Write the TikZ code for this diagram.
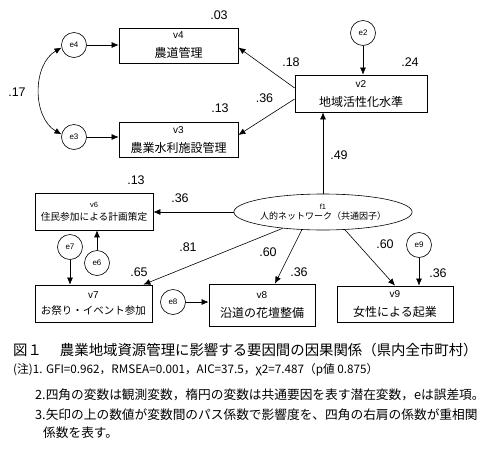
\documentclass[tikz,border=0pt]{standalone}
\usepackage{fontspec}
\setmainfont{Liberation Sans}
\newfontfamily\jp{Noto Sans CJK JP}
\usetikzlibrary{shapes,arrows.meta,positioning,calc}

\newcommand{\vname}[1]{{\fontsize{10}{10}\selectfont #1}}
\newcommand{\vsmall}[1]{{\fontsize{7.5}{7.5}\selectfont #1}}

\begin{document}
\begin{tikzpicture}[
    x=1pt, y=-1pt,
    obsbox/.style={rectangle, draw, line width=0.8pt, inner sep=0pt, align=center, minimum width=118pt, minimum height=36pt, font=\fontsize{12}{19}\selectfont},
    latent/.style={ellipse, draw, line width=0.6pt, minimum width=160pt, minimum height=36pt, inner sep=0pt, align=center, font=\fontsize{9}{10}\selectfont},
    errc/.style={circle, draw, line width=0.6pt, minimum size=25pt, inner sep=0pt, font=\fontsize{8}{8}\selectfont},
    coef/.style={inner sep=0pt, font=\fontsize{12.5}{13}\selectfont},
    arrow/.style={-{Latex[length=7pt,width=6pt]}, line width=0.6pt},
    dblarrow/.style={{Latex[length=7pt,width=6pt]}-{Latex[length=7pt,width=6pt]}, line width=0.6pt},
    note/.style={anchor=west, inner sep=0pt, font=\jp\fontsize{12.7}{13}\selectfont}
]
    \useasboundingbox (0,0) rectangle (496,453);

    \node[obsbox, minimum width=119pt, minimum height=35pt] (v4) at (178.5,45.5) {\vname{v4}\\\jp 農道管理};
    \node[obsbox, minimum width=119pt, minimum height=35pt] (v3) at (178.5,139.5) {\vname{v3}\\\jp 農業水利施設管理};
    \node[obsbox, minimum width=132pt, minimum height=37pt] (v2) at (361,93.5) {\vname{v2}\\\jp 地域活性化水準};
    \node[obsbox, minimum height=37pt, font=\fontsize{9.7}{13}\selectfont] (v6) at (94,211.5) {\vsmall{v6}\\\jp 住民参加による計画策定};
    \node[obsbox, minimum width=117pt, minimum height=37pt, font=\fontsize{10.5}{16}\selectfont] (v7) at (93.5,303.5) {\vname{v7}\\\jp お祭り・イベント参加};
    \node[obsbox, minimum width=106pt, minimum height=42pt] (v8) at (262,305) {\vname{v8}\\\jp 沿道の花壇整備};
    \node[obsbox, minimum width=116pt, minimum height=36pt] (v9) at (395,304) {\vname{v9}\\\jp 女性による起業};
    \node[latent] (f1) at (323,212) {\vsmall{f1}\\\jp 人的ネットワーク（共通因子）};

    \node[errc] (e4) at (74,45) {e4};
    \node[errc] (e3) at (74,137) {e3};
    \node[errc] (e2) at (363,33) {e2};
    \node[errc] (e7) at (70,247) {e7};
    \node[errc] (e6) at (97,263) {e6};
    \node[errc] (e8) at (173,302) {e8};
    \node[errc] (e9) at (419,245) {e9};

    \node[coef] (r4) at (219,15) {.03};
    \node[coef] (r3) at (220,108) {.13};
    \node[coef] (r2) at (410,62) {.24};
    \node[coef] (r6) at (136,180) {.13};
    \node[coef] (r7) at (139,272) {.65};
    \node[coef] (r8) at (299,272) {.36};
    \node[coef] (r9) at (438,273) {.36};
    \node[coef] (c34) at (17,92) {.17};
    \node[coef] (p24) at (291,62) {.18};
    \node[coef] (p23) at (264.5,98) {.36};
    \node[coef] (pf2) at (339,155) {.49};
    \node[coef] (pf6) at (180,198) {.36};
    \node[coef] (pf7) at (188,247) {.81};
    \node[coef] (pf8) at (268,252) {.60};
    \node[coef] (pf9) at (385,244) {.60};

    \draw[arrow] (e4) -- (e4 -| v4.west);
    \draw[arrow] (e3) -- (e3 -| v3.west);
    \draw[dblarrow] (e4.192) to[bend right=60] (e3.168);
    \draw[arrow] (e2) -- (e2 |- v2.north);
    \draw[arrow] ([yshift=5.5pt]v2.west) -- ([yshift=-2pt]v4.east);
    \draw[arrow] ([yshift=-5.5pt]v2.west) -- ([yshift=4.5pt]v3.east);
    \draw[arrow] (f1) -- (f1 |- v2.south);
    \draw[arrow] (f1) -- (f1 -| v6.east);
    \draw[arrow] (f1) -- ([xshift=-9pt]v7.north east);
    \draw[arrow] (f1.220) -- ([xshift=13pt]v8.north);
    \draw[arrow] (f1.321) -- (v9.north);
    \draw[arrow] (e7) -- (e7 |- v7.north);
    \draw[arrow] (e6) -- (e6 |- v6.south);
    \draw[arrow] (e8) -- (e8 -| v8.west);
    \draw[arrow] (e9) -- (e9 |- v9.north);

    \node[anchor=west, inner sep=0pt, font=\jp\fontsize{14.4}{15}\selectfont] (cap) at (13,350) {図１\hspace{18pt}農業地域資源管理に影響する要因間の因果関係（県内全市町村）};
    \node[note, font=\jp\fontsize{11.7}{12}\selectfont] (n1) at (13,370) {(注)1. GFI=0.962，RMSEA=0.001，AIC=37.5，χ2=7.487（p値 0.875）};
    \node[note] (n2) at (35,395) {2.四角の変数は観測変数，楕円の変数は共通要因を表す潜在変数，eは誤差項。};
    \node[note] (n3) at (35,415) {3.矢印の上の数値が変数間のパス係数で影響度を、四角の右肩の係数が重相関};
    \node[note] (n4) at (43,433) {係数を表す。};
\end{tikzpicture}
\end{document}
